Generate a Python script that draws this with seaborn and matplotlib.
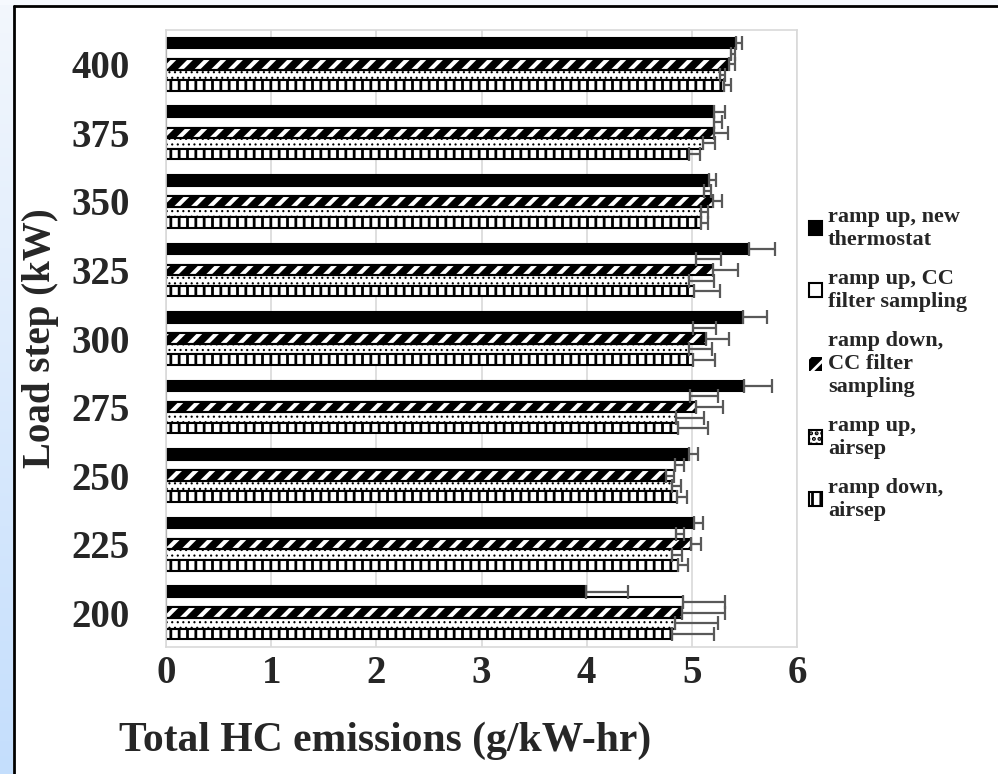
import numpy as np
import pandas as pd
import matplotlib
matplotlib.use('Agg')
import matplotlib.pyplot as plt
import matplotlib.patches as mpatches
import seaborn as sns

# ------------- data -------------
loads = ['400', '375', '350', '325', '300', '275', '250', '225', '200']
series = ['ramp up, new thermostat', 'ramp up, CC filter sampling',
          'ramp down, CC filter sampling', 'ramp up, airsep', 'ramp down, airsep']
legend_labels = ['ramp up, new\nthermostat', 'ramp up, CC\nfilter sampling',
                 'ramp down,\nCC filter\nsampling', 'ramp up,\nairsep', 'ramp down,\nairsep']

up_new_thermostat = [5.42, 5.21, 5.16, 5.54, 5.49, 5.50, 4.97, 5.02, 3.99]
up_cc_filter = [5.37, 5.21, 5.12, 5.04, 5.01, 4.98, 4.84, 4.85, 4.92]
down_cc_filter = [5.35, 5.21, 5.20, 5.20, 5.13, 5.04, 4.75, 4.99, 4.91]
up_airsep = [5.27, 5.11, 5.09, 4.97, 4.97, 4.85, 4.81, 4.81, 4.84]
down_airsep = [5.31, 4.97, 5.09, 5.02, 5.01, 4.87, 4.86, 4.87, 4.81]

up_new_thermostat_err = [0.06, 0.11, 0.07, 0.25, 0.22, 0.26, 0.09, 0.09, 0.40]
up_cc_filter_err = [0.04, 0.08, 0.06, 0.24, 0.22, 0.27, 0.09, 0.08, 0.40]
down_cc_filter_err = [0.06, 0.13, 0.09, 0.24, 0.22, 0.26, 0.08, 0.10, 0.41]
up_airsep_err = [0.05, 0.11, 0.06, 0.24, 0.22, 0.27, 0.09, 0.10, 0.41]
down_airsep_err = [0.06, 0.11, 0.06, 0.25, 0.21, 0.28, 0.09, 0.09, 0.40]

values = [up_new_thermostat, up_cc_filter, down_cc_filter, up_airsep, down_airsep]
errors = [up_new_thermostat_err, up_cc_filter_err, down_cc_filter_err, up_airsep_err, down_airsep_err]

df = pd.DataFrame({
    'load': np.tile(loads, len(series)),
    'series': np.repeat(series, len(loads)),
    'hc': np.concatenate(values),
})

# ------------- styles -------------
# the diagonal pattern is black with white stripes, so its hatch is drawn in white
faces = ['black', 'white', 'black', 'white', 'white']
hatch_colors = ['black', 'black', 'white', 'black', 'black']
hatches = [None, None, '//', '...', '||']
hatch_lw = [1.0, 1.0, 3.0, 0.8, 2.0]

sns.set_style('white')
plt.rcParams['font.family'] = ['Liberation Serif', 'DejaVu Serif']
plt.rcParams['font.weight'] = 'bold'
plt.rcParams['hatch.linewidth'] = 2.0


def style_patch(p, i):
    p.set_facecolor(faces[i])
    p.set_edgecolor(hatch_colors[i])
    if hatches[i]:
        p.set_hatch(hatches[i])
        if hasattr(p, 'set_hatch_linewidth'):
            p.set_hatch_linewidth(hatch_lw[i])


fig = plt.figure(figsize=(9.98, 7.74), dpi=100)
ax = fig.add_axes([166 / 998, 1 - 647 / 774, 631 / 998, 617 / 774])

sns.barplot(data=df, x='hc', y='load', hue='series', order=loads, hue_order=series,
            palette=faces, orient='h', width=0.77, errorbar=None, legend=False,
            linewidth=1.5, edgecolor='black', saturation=1, ax=ax)

bar_containers = list(ax.containers)
for i, cont in enumerate(bar_containers):
    ys, ws, es = [], [], []
    for p in cont.patches:
        style_patch(p, i)
        if hatch_colors[i] == 'white':
            # black outline on top of the white stripes
            p.set_linewidth(0)
            ax.add_patch(mpatches.Rectangle(p.get_xy(), p.get_width(), p.get_height(),
                                            fill=False, edgecolor='black', linewidth=1.5, zorder=p.get_zorder()))
        yc = p.get_y() + p.get_height() / 2
        ys.append(yc)
        ws.append(p.get_width())
        es.append(errors[i][int(round(yc))])
    ax.errorbar(ws, ys, xerr=[np.zeros(len(es)), es], fmt='none',
                ecolor='#595959', elinewidth=1.6, capsize=5, capthick=1.6, zorder=5)

ax.set_xlim(0, 6)
ax.set_ylim(len(loads) - 0.5, -0.5)
ax.set_xticks(range(7))
ax.grid(axis='x', color='#d9d9d9', linewidth=1.2)
ax.set_axisbelow(True)
for s in ax.spines.values():
    s.set_color('#d9d9d9')
    s.set_linewidth(1.2)
ax.tick_params(axis='x', labelsize=28, pad=6, length=0)
ax.tick_params(axis='y', labelsize=28, pad=26, length=0)
ax.set_xlabel('Total HC emissions (g/kW-hr)', fontsize=30, fontweight='bold')
ax.xaxis.set_label_coords(0.347, -0.12)
ax.set_ylabel('Load step (kW)', fontsize=28, fontweight='bold')
ax.yaxis.set_label_coords(-0.17, 0.5)

handles = []
for i in range(len(series)):
    h = mpatches.Patch(linewidth=1.5)
    style_patch(h, i)
    if hatch_colors[i] == 'white':
        h.set_linewidth(0)
    handles.append(h)
leg = fig.legend(handles, legend_labels, loc='center left', bbox_to_anchor=(798 / 998, 1 - 364 / 774),
                 frameon=False, fontsize=16, handlelength=0.6, handleheight=0.6,
                 handletextpad=0.25, labelspacing=0.85, borderpad=0)
for t in leg.get_texts():
    t.set_fontweight('bold')

# page background: light blue strip on the left and a black frame
strip = fig.add_axes([0, 0, 13 / 998, 1])
grad = np.linspace(0, 1, 256).reshape(-1, 1)
cmap = matplotlib.colors.LinearSegmentedColormap.from_list('bg', ['#f3f7fd', '#c4defc'])
strip.imshow(grad, aspect='auto', cmap=cmap, extent=[0, 1, 0, 1], origin='upper')
strip.axis('off')
fig.patches.append(mpatches.Rectangle((0, 1 - 5 / 774), 1, 5 / 774, transform=fig.transFigure,
                                      facecolor='#f6f9fe', edgecolor='none', zorder=0))
fig.add_artist(matplotlib.lines.Line2D([14 / 998, 14 / 998], [0, 1 - 6 / 774], color='black', lw=2))
fig.add_artist(matplotlib.lines.Line2D([14 / 998, 1], [1 - 6 / 774, 1 - 6 / 774], color='black', lw=2))

fig.savefig('out.png', dpi=100)
